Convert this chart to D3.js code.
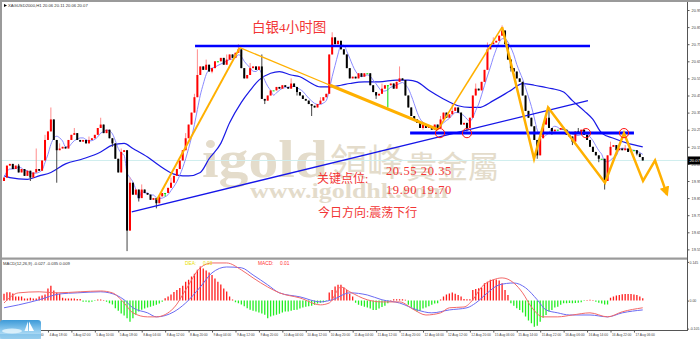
<!DOCTYPE html>
<html><head><meta charset="utf-8">
<script src="https://cdnjs.cloudflare.com/ajax/libs/d3/7.8.5/d3.min.js"></script>
<style>body{margin:0;background:#fff;}svg{display:block;}</style>
</head><body><svg id="c" width="700" height="339"></svg>
<script>
// ---------------- DATA ----------------
const open0 = 19.95;
const closes = [
19.97,20.04,20.05,20.02,20.04,20.00,20.02,19.98,20.01,19.97,
20.00,20.02,20.01,20.07,20.19,20.24,20.31,20.19,20.13,20.14,
20.15,20.14,20.19,20.22,20.23,20.19,20.18,20.19,20.17,20.19,
20.20,20.22,20.26,20.28,20.23,20.25,20.20,20.17,20.08,20.00,
20.12,20.13,19.66,19.94,19.87,19.90,19.85,19.90,19.88,19.87,
19.84,19.85,19.82,19.86,19.88,19.88,19.91,19.94,19.98,20.02,
20.07,20.13,20.20,20.28,20.35,20.44,20.57,20.62,20.60,20.63,
20.59,20.61,20.65,20.65,20.67,20.63,20.66,20.69,20.67,20.70,
20.72,20.61,20.55,20.57,20.61,20.62,20.60,20.62,20.43,20.42,
20.45,20.48,20.48,20.50,20.49,20.51,20.50,20.49,20.52,20.50,
20.47,20.45,20.43,20.42,20.40,20.39,20.38,20.40,20.42,20.44,
20.46,20.69,20.79,20.75,20.77,20.72,20.69,20.61,20.55,20.56,
20.55,20.58,20.56,20.58,20.58,20.51,20.47,20.45,20.46,20.49,
20.51,20.51,20.52,20.49,20.53,20.55,20.54,20.45,20.38,20.33,
20.31,20.29,20.26,20.28,20.26,20.27,20.25,20.28,20.26,20.31,
20.35,20.32,20.34,20.36,20.38,20.35,20.28,20.29,20.26,20.32,
20.45,20.49,20.48,20.53,20.60,20.72,20.75,20.76,20.77,20.80,
20.83,20.75,20.66,20.61,20.59,20.55,20.53,20.45,20.36,20.32,
20.27,20.19,20.10,20.20,20.28,20.32,20.26,20.24,20.25,20.25,
20.26,20.25,20.22,20.21,20.18,20.24,20.23,20.25,20.22,20.19,
20.15,20.12,20.10,20.08,20.08,19.95,20.10,20.15,20.16,20.13,
20.14,20.13,20.14,20.12,20.13,20.13,20.11,20.09,20.07];
const highWicks = [[5,20.05],[11,20.14],[14,20.22],[16,20.38],[19,20.17],[24,20.26],[29,20.21],[33,20.32],[40,20.14],[43,19.97],[47,19.93],[57,19.97],[62,20.23],[65,20.46],[66,20.72],[69,20.66],[76,20.69],[80,20.75],[84,20.64],[88,20.69],[98,20.55],[108,20.44],[112,20.82],[118,20.58],[129,20.52],[135,20.62],[141,20.31],[149,20.33],[153,20.40],[161,20.52],[165,20.76],[167,20.79],[170,20.86],[183,20.23],[186,20.38],[196,20.26],[207,20.18],[212,20.16]];
const lowWicks = [[9,19.95],[18,19.94],[37,20.15],[42,19.54],[46,19.83],[52,19.79],[55,19.86],[71,20.58],[89,20.40],[100,20.45],[105,20.33],[127,20.43],[131,20.38],[143,20.25],[158,20.24],[173,20.59],[182,20.08],[187,20.22],[194,20.16],[203,20.06],[205,19.90],[216,20.10]];
const maSlowIdx = [0,2,8,12,16,21,27,33,37,41,44,49,53,58,61,63,67,70,74,77,81,84,87,91,94,98,101,104,108,111,115,118,123,128,134,138,141,145,150,155,159,162,167,173,177,181,184,187,191,194,198,201,204,208,213,218];
const maSlowVal = [19.98,19.97,19.96,19.98,20.00,20.05,20.08,20.12,20.16,20.17,20.14,20.09,20.04,19.99,19.98,19.98,20.00,20.08,20.17,20.29,20.41,20.48,20.54,20.58,20.59,20.57,20.56,20.53,20.50,20.50,20.51,20.52,20.53,20.53,20.54,20.54,20.53,20.48,20.43,20.39,20.38,20.38,20.42,20.48,20.52,20.51,20.50,20.49,20.47,20.42,20.36,20.31,20.23,20.20,20.17,20.15];
const macdHist = [
0.026,0.031,0.031,0.027,0.015,0.015,0.015,0.008,0.008,0.011,
0.008,0.008,0.015,0.019,0.023,0.045,0.056,0.038,0.030,0.026,
0.011,0.008,0.008,0.008,0.008,0.006,0.006,-0.004,-0.004,-0.006,
-0.004,-0.002,0.004,0.004,0.002,-0.004,-0.010,-0.015,-0.029,-0.038,
-0.048,-0.056,-0.066,-0.079,-0.066,-0.053,-0.041,-0.034,-0.030,-0.026,
-0.023,-0.019,-0.016,-0.011,-0.004,0.009,0.015,0.023,0.032,0.040,
0.047,0.056,0.071,0.078,0.090,0.101,0.116,0.128,0.120,0.113,
0.105,0.096,0.083,0.071,0.060,0.045,0.034,0.015,0.004,-0.006,
-0.010,-0.015,-0.021,-0.029,-0.034,-0.038,-0.041,-0.045,-0.048,-0.053,
-0.066,-0.060,-0.056,-0.053,-0.049,-0.045,-0.041,-0.041,-0.038,-0.035,
-0.034,-0.030,-0.026,-0.023,-0.021,-0.019,-0.016,-0.011,-0.008,-0.006,
-0.002,0.030,0.040,0.053,0.059,0.059,0.049,0.040,0.026,0.015,
-0.008,-0.016,-0.019,-0.023,-0.026,-0.030,-0.035,-0.035,-0.030,-0.024,
-0.019,-0.010,0.002,0.005,0.005,0.005,0.005,0.003,-0.016,-0.026,
-0.035,-0.041,-0.038,-0.030,-0.026,-0.021,-0.016,-0.011,-0.010,0.004,
0.015,0.023,0.027,0.030,0.026,0.021,0.015,0.006,0.005,0.005,
0.040,0.043,0.046,0.049,0.065,0.071,0.078,0.079,0.079,0.075,
0.065,0.040,0.021,-0.010,-0.019,-0.029,-0.035,-0.045,-0.060,-0.075,
-0.085,-0.098,-0.094,-0.079,-0.064,-0.054,-0.041,-0.035,-0.026,-0.023,
-0.016,-0.010,-0.010,-0.009,-0.010,-0.009,-0.008,-0.006,-0.002,0.002,
0.003,0.002,-0.004,-0.008,-0.011,-0.015,-0.015,0.011,0.015,0.019,
0.021,0.024,0.025,0.025,0.025,0.023,0.021,0.015,0.009];
const signalIdx = [0,5,12,19,25,33,36,41,44,49,52,58,62,67,71,76,81,85,90,94,101,108,112,118,124,129,135,141,146,152,158,161,165,169,174,178,182,185,189,193,200,206,211,218];
const signalVal = [-0.027,-0.016,0.003,0.025,0.029,0.033,0.029,0.003,-0.027,-0.046,-0.061,-0.042,-0.009,0.051,0.104,0.126,0.123,0.096,0.059,0.029,0.014,-0.005,0.003,0.029,0.021,0.003,-0.009,-0.035,-0.046,-0.035,-0.027,-0.009,0.029,0.059,0.066,0.048,0.003,-0.035,-0.046,-0.054,-0.054,-0.061,-0.046,-0.035];
const macdIdx = [0,5,12,18,26,33,37,41,44,49,52,58,62,67,71,76,81,85,90,94,101,108,111,115,118,124,129,135,140,144,149,152,157,160,163,167,170,174,177,180,184,189,194,200,206,211,218];
const macdVal = [-0.009,0.029,0.033,0.029,0.033,0.036,0.029,-0.009,-0.046,-0.061,-0.061,-0.027,0.040,0.123,0.141,0.141,0.115,0.085,0.051,0.029,0.010,-0.016,-0.009,0.051,0.033,0.003,-0.005,-0.005,-0.035,-0.054,-0.046,-0.027,-0.024,0.003,0.051,0.078,0.085,0.066,0.029,-0.024,-0.061,-0.061,-0.054,-0.046,-0.061,-0.042,-0.027];
const priceTicks = [20.95,20.85,20.75,20.65,20.55,20.45,20.35,20.25,20.15,20.05,19.95,19.85,19.75,19.65,19.55];
const macdTicks = [0.145,0,-0.105];
const macdTickLabels = ["0.145","0.00","-0.105"];
const timeBars = [7,15,23,31,39,47,55,63,71,79,87,95,103,111,119,127,135,143,151,159,167,175,183,191,199,207,215];
const timeLabels = ["4 Aug 10:00","4 Aug 18:00","5 Aug 02:00","5 Aug 10:00","5 Aug 18:00","8 Aug 04:00","8 Aug 12:00","8 Aug 20:00","9 Aug 04:00","9 Aug 12:00","9 Aug 20:00","10 Aug 04:00","10 Aug 12:00","10 Aug 20:00","11 Aug 04:00","11 Aug 12:00","11 Aug 20:00","12 Aug 04:00","12 Aug 12:00","12 Aug 20:00","15 Aug 06:00","15 Aug 14:00","15 Aug 22:00","16 Aug 06:00","16 Aug 14:00","16 Aug 22:00","17 Aug 06:00"];
// hand-drawn analysis objects (bar index, price)
const orangeA = [[52.2,19.84],[80.5,20.73]];
const orangeB1 = [[80.5,20.73],[111.3,20.51]];
const orangeB2 = [[111.3,20.51],[148.1,20.25]];
const orangeC = [[148.1,20.25],[170.0,20.85]];
const orangeZig = [[170.0,20.85],[180.9,20.08],[185.7,20.38],[205.1,19.94],[211.6,20.23],[218.1,19.95],[222.2,20.07],[226.3,19.87]];
const blueTop = [[65.2,20.74],[200,20.74]];
const blueMid = [[138.6,20.23],[215,20.23]];
const blueDiag = [[43.6,19.77],[199.3,20.42]];
const circleIdx = [148.8,158.0,198.6,211.6];
const circlePrice = 20.23;
const lastPrice = 20.07;

// ---------------- SCALES ----------------
const svg = d3.select("#c");
const xs = d3.scaleLinear().domain([0,218]).range([4,642.74]);
const ys = d3.scaleLinear().domain([19.55,20.95]).range([249.4,10]);
const ym = d3.scaleLinear().domain([-0.105,0.145]).range([328.6,261.9]);

const defs = svg.append("defs");
defs.append("clipPath").attr("id","cm").append("rect").attr("x",2).attr("y",3).attr("width",685).attr("height",255);
defs.append("clipPath").attr("id","cd").append("rect").attr("x",2).attr("y",260).attr("width",685).attr("height",69.5);
const gr = defs.append("linearGradient").attr("id","sky").attr("x1",0).attr("y1",0).attr("x2",0).attr("y2",1);
gr.append("stop").attr("offset","0%").attr("stop-color","#3d9ad8");
gr.append("stop").attr("offset","55%").attr("stop-color","#8fcbef");
gr.append("stop").attr("offset","100%").attr("stop-color","#cfeaf8");
defs.append("marker").attr("id","arr").attr("viewBox","0 0 10 10").attr("refX",8).attr("refY",5)
  .attr("markerWidth",4).attr("markerHeight",4).attr("orient","auto")
  .append("path").attr("d","M0,0 L10,5 L0,10 z").attr("fill","#ffb000");

svg.append("rect").attr("width",700).attr("height",339).attr("fill","#fff");

const main = svg.append("g").attr("clip-path","url(#cm)");
// watermark
const wm = "#e4dccb";
main.append("text").attr("x",202).attr("y",177).attr("font-family","Liberation Serif, DejaVu Serif, serif")
  .attr("font-weight","bold").attr("font-size",52).attr("fill",wm)
  .attr("textLength",126).attr("lengthAdjust","spacingAndGlyphs").text("igold");
main.append("text").attr("x",330).attr("y",176).attr("font-family","'Noto Sans CJK TC', sans-serif")
  .attr("font-size",37).attr("fill",wm).text("領峰");
main.append("text").attr("x",406).attr("y",178).attr("font-family","'Noto Sans CJK TC', sans-serif")
  .attr("font-size",31).attr("fill",wm).text("貴金屬");
main.append("text").attr("x",250).attr("y",198).attr("font-family","Liberation Serif, DejaVu Serif, serif")
  .attr("font-weight","bold").attr("font-size",21).attr("fill",wm)
  .attr("textLength",198).attr("lengthAdjust","spacingAndGlyphs").text("www.igoldhk.com");

// current price line
main.append("line").attr("x1",2).attr("x2",687).attr("y1",ys(lastPrice)).attr("y2",ys(lastPrice))
  .attr("stroke","#cfeeee").attr("stroke-width",1);

const lineP = d3.line().x(d=>xs(d[0])).y(d=>ys(d[1]));
const curveP = d3.line().x(d=>xs(d[0])).y(d=>ys(d[1])).curve(d3.curveMonotoneX);

// moving averages
const slow = maSlowIdx.map((d,i)=>[d,maSlowVal[i]]);
main.append("path").attr("d",curveP(slow)).attr("fill","none").attr("stroke","#1a1ae6").attr("stroke-width",1.2);
const fast = closes.map((c,i)=>[i,d3.mean(closes.slice(Math.max(0,i-4),i+1))]);
main.append("path").attr("d",curveP(fast)).attr("fill","none").attr("stroke","#8a8aff").attr("stroke-width",1);

// candles
const hiMap = new Map(highWicks), loMap = new Map(lowWicks);
const bars = closes.map((c,i)=>{
  const o = i===0?open0:closes[i-1];
  const hi = Math.max(o,c,hiMap.get(i)||0);
  const lo = Math.min(o,c,loMap.has(i)?loMap.get(i):99);
  return {i,o,c,hi,lo};
});
const cg = main.append("g");
bars.forEach(b=>{
  const up = b.c>b.o, dn = b.c<b.o;
  const col = up?"#ff0000":(dn?"#000000":"#00e000");
  const wcol = up?"#ff8c8c":(dn?"#444":"#00e000");
  cg.append("line").attr("x1",xs(b.i)).attr("x2",xs(b.i)).attr("y1",ys(b.hi)).attr("y2",ys(b.lo))
    .attr("stroke",wcol).attr("stroke-width",1);
  const y1 = ys(Math.max(b.o,b.c)), y2 = ys(Math.min(b.o,b.c));
  cg.append("rect").attr("x",xs(b.i)-1).attr("width",2).attr("y",y1).attr("height",Math.max(1,y2-y1)).attr("fill",col);
});

// analysis objects
main.append("path").attr("d",lineP(blueDiag)).attr("stroke","#1515e8").attr("stroke-width",1.3).attr("fill","none");
main.append("path").attr("d",lineP(blueTop)).attr("stroke","#0000ff").attr("stroke-width",2.5).attr("fill","none");
main.append("path").attr("d",lineP(blueMid)).attr("stroke","#0000ff").attr("stroke-width",3).attr("fill","none");
const og = "#ffb000";
main.append("path").attr("d",lineP(orangeA)).attr("stroke",og).attr("stroke-width",2).attr("fill","none");
main.append("path").attr("d",lineP(orangeB1)).attr("stroke",og).attr("stroke-width",1.3).attr("fill","none");
main.append("path").attr("d",lineP(orangeB2)).attr("stroke",og).attr("stroke-width",3).attr("fill","none");
main.append("path").attr("d",lineP(orangeC)).attr("stroke",og).attr("stroke-width",1.6).attr("fill","none");
main.append("path").attr("d",lineP(orangeZig)).attr("stroke",og).attr("stroke-width",2.5).attr("fill","none")
  .attr("stroke-linejoin","miter").attr("marker-end","url(#arr)");
circleIdx.forEach(ci=>{
  main.append("circle").attr("cx",xs(ci)).attr("cy",ys(circlePrice)).attr("r",4.6)
    .attr("fill","none").attr("stroke","#ff1010").attr("stroke-width",1);
});

// annotation texts
const tc = "#f23535";
const cjk = "'Liberation Serif', 'Noto Sans CJK SC', serif";
main.append("text").attr("x",252).attr("y",32).attr("font-family",cjk).attr("font-size",13.5).attr("fill",tc).text("白银4小时图");
main.append("text").attr("x",317).attr("y",183).attr("font-family",cjk).attr("font-size",12).attr("fill",tc).text("关键点位:");
main.append("text").attr("x",386).attr("y",175).attr("font-family",cjk).attr("font-size",12.5).attr("letter-spacing",0.6).attr("fill",tc).text("20.55 20.35");
main.append("text").attr("x",386).attr("y",194).attr("font-family",cjk).attr("font-size",12.5).attr("letter-spacing",0.6).attr("fill",tc).text("19.90 19.70");
main.append("text").attr("x",318).attr("y",217).attr("font-family",cjk).attr("font-size",12).attr("fill",tc).text("今日方向:震荡下行");

// header
svg.append("path").attr("d","M4,4 L7,5.5 L4,7 z").attr("fill","#000");
svg.append("text").attr("x",8).attr("y",7).attr("font-family","Liberation Sans, Arial, sans-serif").attr("font-size",4.2)
  .attr("fill","#333").text("XAGUSD2000,H1  20.06 20.11 20.06 20.07");

// ---------------- MACD panel ----------------
const mg = svg.append("g").attr("clip-path","url(#cd)");
macdHist.forEach((v,i)=>{
  mg.append("line").attr("x1",xs(i)).attr("x2",xs(i)).attr("y1",ym(0)).attr("y2",ym(v))
    .attr("stroke",v>=0?"#ff1a1a":"#22ee22").attr("stroke-width",1.3);
});
const curveM = d3.line().x(d=>xs(d[0])).y(d=>ym(d[1])).curve(d3.curveMonotoneX);
mg.append("path").attr("d",curveM(signalIdx.map((d,i)=>[d,signalVal[i]]))).attr("fill","none").attr("stroke","#6a6af2").attr("stroke-width",1);
mg.append("path").attr("d",curveM(macdIdx.map((d,i)=>[d,macdVal[i]]))).attr("fill","none").attr("stroke","#f26a6a").attr("stroke-width",1);
svg.append("text").attr("x",3).attr("y",265).attr("font-family","Liberation Sans, Arial, sans-serif").attr("font-size",4.2)
  .attr("fill","#333").text("MACD(12,26,9) -0.027 -0.035 0.009");
svg.append("text").attr("x",185).attr("y",265).attr("font-family","Liberation Sans, Arial, sans-serif").attr("font-size",4.8).attr("fill","#e8e000").text("DEA:");
svg.append("text").attr("x",203).attr("y",265).attr("font-family","Liberation Sans, Arial, sans-serif").attr("font-size",4.8).attr("fill","#e8e000").text("0.03");
svg.append("text").attr("x",258).attr("y",265).attr("font-family","Liberation Sans, Arial, sans-serif").attr("font-size",4.8).attr("fill","#ff3030").text("MACD:");
svg.append("text").attr("x",280).attr("y",265).attr("font-family","Liberation Sans, Arial, sans-serif").attr("font-size",4.8).attr("fill","#ff3030").text("0.01");

// ---------------- frames & axes ----------------
svg.append("rect").attr("x",0).attr("y",0).attr("width",700).attr("height",2).attr("fill","#9a9a9a");
svg.append("rect").attr("x",0).attr("y",0).attr("width",2).attr("height",330).attr("fill","#9a9a9a");
svg.append("rect").attr("x",0).attr("y",257.5).attr("width",688).attr("height",2.2).attr("fill","#9a9a9a");
svg.append("line").attr("x1",687.5).attr("x2",687.5).attr("y1",2).attr("y2",330.5).attr("stroke","#555").attr("stroke-width",1);
svg.append("line").attr("x1",0).attr("x2",688).attr("y1",330.5).attr("y2",330.5).attr("stroke","#555").attr("stroke-width",1);

const pa = svg.append("g").attr("transform","translate(687.5,0)")
  .call(d3.axisRight(ys).tickValues(priceTicks).tickFormat(d3.format(".2f")).tickSize(2).tickPadding(2));
pa.select(".domain").remove();
pa.selectAll("text").attr("font-size",3.9).attr("font-family","Liberation Sans, Arial, sans-serif").attr("fill","#444");
pa.selectAll("line").attr("stroke","#555");

const ma = svg.append("g").attr("transform","translate(687.5,0)")
  .call(d3.axisRight(ym).tickValues(macdTicks).tickFormat((d,i)=>macdTickLabels[i]).tickSize(1.5).tickPadding(0.5));
ma.select(".domain").remove();
ma.selectAll("text").attr("font-size",3.5).attr("font-family","Liberation Sans, Arial, sans-serif").attr("fill","#444");
ma.selectAll("line").attr("stroke","#555");

// current price tag
svg.append("rect").attr("x",688).attr("y",ys(lastPrice)-4).attr("width",12).attr("height",8).attr("fill","#000");
svg.append("text").attr("x",689.5).attr("y",ys(lastPrice)+1.5).attr("font-size",4.2).attr("font-family","Liberation Sans, Arial, sans-serif")
  .attr("fill","#fff").text(d3.format(".2f")(lastPrice));

const ta = svg.append("g").attr("transform","translate(0,330.5)")
  .call(d3.axisBottom(xs).tickValues(timeBars).tickFormat((d,i)=>timeLabels[i]).tickSize(2).tickPadding(1.5));
ta.select(".domain").remove();
ta.selectAll("text").attr("font-size",3.3).attr("font-family","Liberation Sans, Arial, sans-serif")
  .attr("fill","#444").attr("text-anchor","start").attr("dx",1);
ta.selectAll("line").attr("stroke","#555");

// logo
const lg = svg.append("g");
lg.append("rect").attr("x",0).attr("y",320).attr("width",41).attr("height",19).attr("rx",3).attr("fill","url(#sky)");
lg.append("ellipse").attr("cx",12).attr("cy",331).attr("rx",10).attr("ry",2.5).attr("fill","#e8f6fd").attr("opacity",0.8);
lg.append("path").attr("d","M29,321.5 L29,331 L34,331 z").attr("fill","#ffffff");
lg.append("path").attr("d","M28,321.5 L28,331 L24.5,331 z").attr("fill","#f4fbff");
lg.append("rect").attr("x",0).attr("y",334).attr("width",41).attr("height",5).attr("fill","#6fb9e6").attr("opacity",0.6);
</script>
</body></html>
